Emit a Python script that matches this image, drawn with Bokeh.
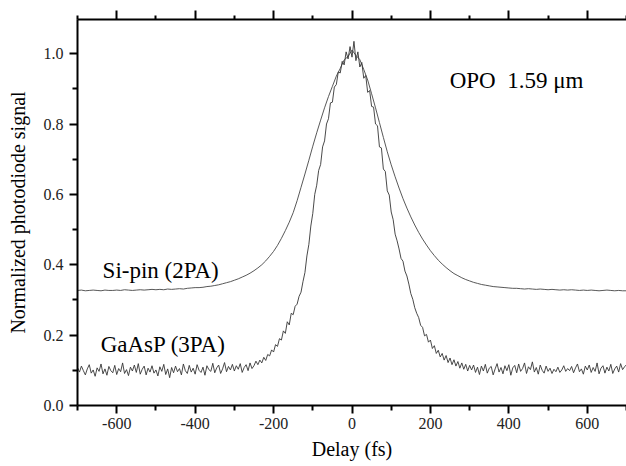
from bokeh.plotting import figure
from bokeh.models import LinearAxis, FixedTicker, Label, Range1d
from bokeh.embed import file_html
from bokeh.resources import INLINE

# ---- data ----
si_delay = list(range(-700, 701, 10))
si_signal = [
    .327, .328, .326, .327, .328, .327, .326, .328, .327, .327,
    .328, .327, .329, .328, .327, .328, .329, .328, .329, .330,
    .329, .330, .329, .331, .330, .331, .332, .331, .333, .334, .335,
    .335, .336, .338, .339, .341, .343, .346, .349, .352, .356,
    .360, .365, .370, .376, .383, .391, .400, .411, .424, .438,
    .455, .475, .497, .521, .548, .582, .620, .658, .697, .737,
    .775, .811, .846, .878, .907, .936, .958, .982, .992, 1.010,
    .995, .983, .955, .925, .886, .846, .804, .762, .721, .684,
    .650, .618, .588, .561, .536, .513, .492, .473, .456, .440,
    .426, .413, .402, .392, .383, .375, .369, .363, .358, .354,
    .350, .347, .344, .342, .340, .338, .337, .336, .335, .334,
    .333, .333, .332, .331, .332, .331, .330, .331, .330, .329,
    .330, .329, .328, .329, .328, .329, .328, .327, .328, .327,
    .328, .327, .326, .327, .328, .327, .326, .327, .326, .326,
]

ga_delay = list(range(-700, 701, 5))
ga_signal = [
    # -700 .. -255
    .108, .095, .112, .099, .087, .104, .116, .092, .101, .083,
    .107, .097, .118, .090, .104, .086, .111, .099, .093, .114,
    .088, .105, .096, .121, .091, .102, .085, .109, .098, .115,
    .094, .119, .089, .103, .112, .087, .106, .095, .113, .092,
    .101, .084, .110, .097, .117, .088, .104, .079, .108, .093,
    .112, .096, .105, .087, .118, .099, .091, .114, .095, .106,
    .089, .116, .100, .094, .109, .086, .113, .102, .097, .120,
    .093, .107, .115, .091, .104, .122, .096, .111, .101, .117,
    .098, .113, .103, .119, .094, .108, .116, .099, .121, .105,
    # -250 .. 0
    .113, .126, .116, .129, .121, .137, .128, .145, .141, .158,
    .152, .173, .168, .190, .186, .212, .205, .238, .229, .262,
    .258, .282, .288, .310, .322, .352, .378, .425, .458, .510,
    .546, .600, .626, .668, .685, .735, .752, .800, .815, .860,
    .862, .905, .912, .948, .945, .978, .968, 1.005, .985, 1.020,
    .990,
    # 5 .. 300
    1.035, .980, 1.005, .962, .975, .930, .938, .890, .895, .850,
    .848, .800, .795, .735, .732, .672, .665, .610, .598, .550,
    .528, .487, .468, .445, .418, .410, .382, .368, .345, .318,
    .302, .278, .262, .250, .228, .222, .198, .202, .180, .186,
    .162, .170, .148, .157, .138, .148, .129, .142, .122, .135,
    .116, .130, .112, .125, .106, .121, .103, .117, .098, .114,
    # 305 .. 700
    .101, .115, .094, .109, .088, .112, .098, .117, .092, .106,
    .111, .087, .104, .119, .095, .108, .090, .113, .099, .116,
    .086, .107, .114, .093, .118, .097, .105, .121, .091, .110,
    .102, .124, .095, .108, .089, .115, .100, .092, .112, .097,
    .106, .091, .103, .096, .109, .094, .101, .113, .097, .105,
    .099, .111, .093, .107, .118, .096, .104, .089, .112, .101,
    .115, .094, .108, .097, .121, .090, .106, .113, .092, .109,
    .098, .117, .091, .104, .112, .095, .119, .102, .110, .116,
]

x_major = [-600, -400, -200, 0, 200, 400, 600]
x_minor = [-700, -500, -300, -100, 100, 300, 500, 700]
y_major = [0.0, 0.2, 0.4, 0.6, 0.8, 1.0]
y_minor = [0.1, 0.3, 0.5, 0.7, 0.9]

FONT = "Liberation Serif"

p = figure(width=626, height=466, output_backend="svg", toolbar_location=None,
           x_range=Range1d(-700, 700), y_range=Range1d(0, 1.097),
           x_axis_location=None, y_axis_location=None,
           min_border_left=77, min_border_top=19, min_border_right=0,
           min_border_bottom=61)
p.outline_line_color = None
p.xgrid.visible = False
p.ygrid.visible = False
p.background_fill_color = "white"
p.border_fill_color = "white"

p.line(si_delay, si_signal, line_color="#454545", line_width=0.9)
p.line(ga_delay, ga_signal, line_color="#353535", line_width=0.9)


def style(ax):
    ax.axis_line_width = 2
    ax.axis_line_color = "black"
    ax.major_tick_line_width = 2
    ax.minor_tick_line_width = 2
    ax.major_tick_line_color = "black"
    ax.minor_tick_line_color = "black"
    ax.major_tick_in = 0
    ax.minor_tick_in = 0
    ax.major_tick_out = 8
    ax.minor_tick_out = 5
    ax.major_label_text_font = FONT
    ax.major_label_text_font_size = "16px"
    ax.major_label_text_color = "#222222"
    ax.axis_label_text_font = FONT
    ax.axis_label_text_font_size = "20px"
    ax.axis_label_text_font_style = "normal"
    ax.axis_label_text_color = "black"


xb = LinearAxis(ticker=FixedTicker(ticks=x_major, minor_ticks=x_minor),
                axis_label="Delay (fs)")
style(xb)
xb.major_label_standoff = 4
xb.axis_label_standoff = 6
xb.major_label_overrides = {v: str(v) for v in x_major}
p.add_layout(xb, "below")

yl = LinearAxis(ticker=FixedTicker(ticks=y_major, minor_ticks=y_minor),
                axis_label="Normalized photodiode signal")
style(yl)
yl.major_label_standoff = 6
yl.axis_label_standoff = 12
yl.major_label_overrides = {v: f"{v:.1f}" for v in y_major}
p.add_layout(yl, "left")

xt = LinearAxis(ticker=FixedTicker(ticks=x_major, minor_ticks=x_minor))
style(xt)
xt.major_tick_out = 9
xt.minor_tick_out = 4
xt.major_label_overrides = {v: "" for v in x_major}
xt.major_label_standoff = 0
p.add_layout(xt, "above")

for txt, x, y in [("OPO\u00a0\u00a01.59 \u03bcm", 249, 0.923),
                  ("Si-pin (2PA)", -636, 0.384),
                  ("GaAsP (3PA)", -641, 0.172)]:
    p.add_layout(Label(x=x, y=y, text=txt, text_font=FONT,
                       text_font_size="23px", text_color="black",
                       text_baseline="alphabetic", text_align="left"))

open("out.html", "w").write(file_html(p, INLINE))
